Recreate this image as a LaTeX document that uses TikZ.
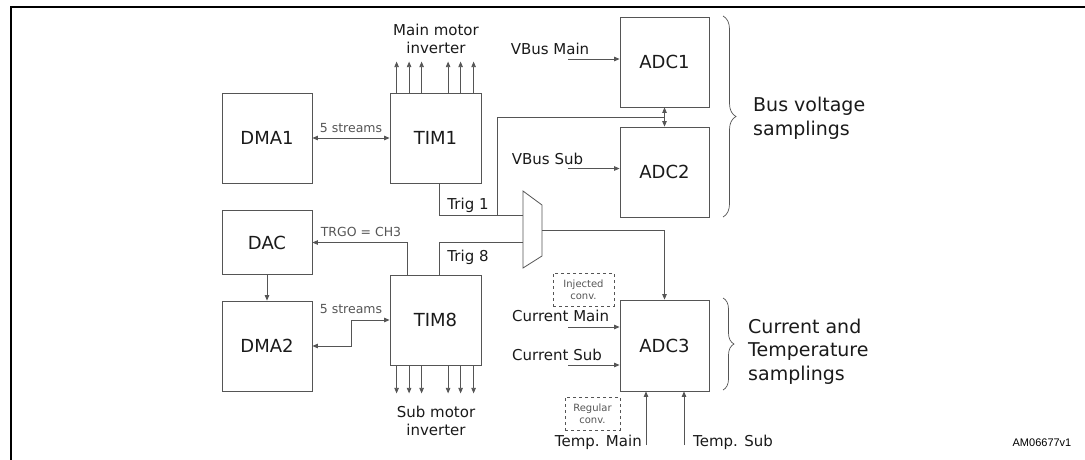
\documentclass[tikz,border=0pt]{standalone}
\usepackage{fontspec}
\setmainfont{DejaVu Sans}
\newfontfamily\arialfont{Liberation Sans}
\usetikzlibrary{arrows.meta,calc,decorations.pathreplacing}
\definecolor{boxgray}{HTML}{555555}
\definecolor{labelgray}{HTML}{555555}
\definecolor{txt}{HTML}{1A1A1A}
\begin{document}
\begin{tikzpicture}[x=1pt,y=-1pt,
  box/.style={draw=boxgray, line width=0.8pt, minimum width=90pt, minimum height=90pt, inner sep=0pt, text=txt, font=\fontsize{18}{21}\selectfont},
  wire/.style={draw=boxgray, line width=0.8pt},
  arr/.style={wire, -{Triangle[length=5.5pt,width=4.5pt]}},
  dbl/.style={wire, {Triangle[length=5.5pt,width=4.5pt]}-{Triangle[length=5.5pt,width=4.5pt]}},
  lbl/.style={font=\fontsize{15}{18}\selectfont, inner sep=0pt, text=txt},
  glbl/.style={font=\fontsize{12.5}{15}\selectfont, inner sep=0pt, text=labelgray},
  big/.style={font=\fontsize{19}{23}\selectfont, inner sep=0pt, text=txt, anchor=base west},
  convbox/.style={draw=boxgray, dashed, line width=0.7pt, align=center, inner sep=0pt, text=labelgray, font=\fontsize{10}{12}\selectfont},
  bracestyle/.style={draw=boxgray, line width=0.7pt, decorate}
]
\useasboundingbox (0,0) rectangle (1085,459);
% frame
\draw[line width=2pt] (11,460) -- (11,7) -- (1086,7);

% boxes
\node[box] (dma1) at (267,138) {DMA1};
\node[box, minimum width=91pt] (tim1) at (435.5,138) {TIM1};
\node[box, minimum width=89pt] (adc1) at (664.5,62) {ADC1};
\node[box, minimum width=89pt] (adc2) at (664.5,172) {ADC2};
\node[box, minimum height=63.5pt] (dac) at (267,242.5) {DAC};
\node[box] (dma2) at (267,346) {DMA2};
\node[box, minimum width=91pt] (tim8) at (435.5,320) {TIM8};
\node[box, minimum width=89pt, minimum height=91pt] (adc3) at (664.5,345.5) {ADC3};

% multiplexer
\coordinate (muxin1) at (523,215);
\coordinate (muxin2) at (523,242);
\coordinate (muxout) at (542,230);
\draw[wire] (523,191) -- (542,205) -- (542,256) -- (523,268) -- cycle;

% TIM1 <-> DMA1
\draw[dbl] (dma1.east) -- (tim1.west);
\node[glbl, anchor=base] (s1) at (351,132.7) {5 streams};

% TIM1 outputs
\foreach \dx in {7,19.5,32,58.5,71,84} {
  \draw[arr] ($(tim1.north west)+(\dx,0)$) -- ++(0,-31);
  \draw[arr] ($(tim8.south west)+(\dx,0)$) -- ++(0,28);
}
\node[lbl, anchor=base] (mm1) at (436,35) {Main motor};
\node[lbl, anchor=base] (mm2) at (436,53) {inverter};
\node[lbl, anchor=base] (sm1) at (436,417.3) {Sub motor};
\node[lbl, anchor=base] (sm2) at (436,435) {inverter};

% Trig 1
\coordinate (t1) at ($(tim1.south)+(3.5,0)$);
\draw[wire] (t1) |- (muxin1);
\coordinate (j1) at (497,215);
\coordinate (adcmid) at ($(adc1.south)!0.5!(adc2.north)$);
\draw[wire] (j1) |- (adcmid);
\draw[dbl] (adc1.south) -- (adc2.north);
\node[lbl, anchor=base] (trig1) at (468,209.3) {Trig 1};

% Trig 8
\coordinate (t8) at ($(tim8.north)+(3.5,0)$);
\draw[wire] (t8) |- (muxin2);
\node[lbl, anchor=base] (trig8) at (468,261) {Trig 8};

% mux -> ADC3
\draw[arr] (muxout) -| (adc3.north);

% TRGO
\draw[arr] ($(tim8.north west)+(18,0)$) |- (dac.east);
\node[glbl, anchor=base] (trgo) at (361,236) {TRGO = CH3};

% DAC -> DMA2
\draw[arr] (dac.south) -- (dma2.north);

% TIM8 <-> DMA2
\draw[dbl] (tim8.west) -- ++(-38,0) |- (dma2.east);
\node[glbl, anchor=base] (s2) at (351,313.3) {5 streams};

% ADC inputs
\node[lbl, anchor=base] (vbm) at (550,54) {VBus Main};
\coordinate (vbmS) at (568,59);
\draw[arr] (vbmS) -- (vbmS -| adc1.west);
\node[lbl, anchor=base] (vbs) at (547.5,164) {VBus Sub};
\coordinate (vbsS) at (568,168.5);
\draw[arr] (vbsS) -- (vbsS -| adc2.west);

\node[convbox, minimum width=61pt, minimum height=33pt] (inj) at (583.5,289.5) {Injected\\conv.};
\node[lbl, anchor=base west] (cm) at (512,321) {Current Main};
\coordinate (cmS) at (568,327);
\draw[arr] (cmS) -- (cmS -| adc3.west);
\node[lbl, anchor=base west] (cs) at (512,360) {Current Sub};
\coordinate (csS) at (568,365);
\draw[arr] (csS) -- (csS -| adc3.west);

\node[convbox, minimum width=55pt, minimum height=33pt] (reg) at (592.5,413.5) {Regular\\conv.};
\node[lbl, anchor=base east] (tm) at (642,446) {Temp. Main};
\coordinate (tmS) at (646,445);
\draw[arr] (tmS) -- (tmS |- adc3.south);
\node[lbl, anchor=base west] (ts) at (693,446) {Temp. Sub};
\coordinate (tsS) at (684,445);
\draw[arr] (tsS) -- (tsS |- adc3.south);

% braces
\draw[bracestyle, decoration={brace, amplitude=13pt}] (723,16) -- (723,217);
\draw[bracestyle, decoration={brace, amplitude=11pt}] (723,298) -- (723,390);
\node[big] (bv1) at (753,111.7) {Bus voltage};
\node[big] (bv2) at (753,135) {samplings};
\node[big] (ct1) at (748,333.3) {Current and};
\node[big] (ct2) at (748,356.7) {Temperature};
\node[big] (ct3) at (748,380) {samplings};

\node[font=\arialfont\fontsize{11}{13}\selectfont, inner sep=0pt, anchor=base] (am) at (1042,446) {AM06677v1};
\end{tikzpicture}
\end{document}
